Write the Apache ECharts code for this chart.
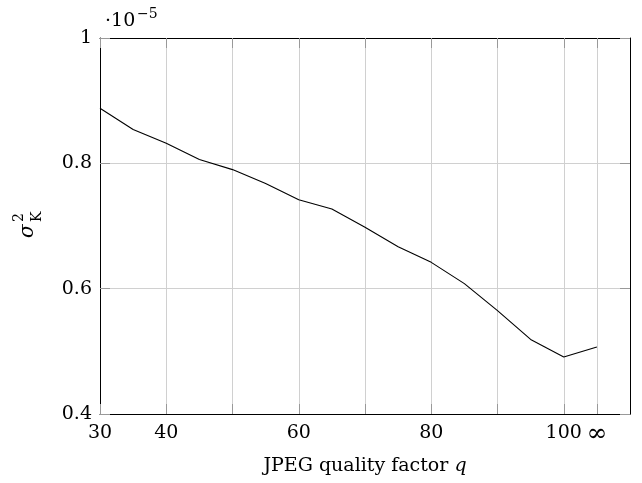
<!DOCTYPE html>
<html>
<head>
<meta charset="utf-8">
<script src="https://cdn.jsdelivr.net/npm/echarts@6/dist/echarts.min.js"></script>
<style>
  html, body { margin: 0; padding: 0; background: #fff; }
  #chart { width: 642px; height: 483px; }
</style>
</head>
<body>
<div id="chart"></div>
<script>
// JPEG quality factor q (105 stands for q = infinity)
const qualities = [30, 35, 40, 45, 50, 55, 60, 65, 70, 75, 80, 85, 90, 95, 100, 105];
// sigma_K^2, in units of 1e-5
const variances = [0.888, 0.854, 0.832, 0.806, 0.790, 0.768, 0.742, 0.727, 0.698, 0.667, 0.642, 0.608, 0.565, 0.519, 0.491, 0.507];

const xTicks = [30, 40, 50, 60, 70, 80, 90, 100, 105];
const xLabels = [30, 40, 60, 80, 100, 105];

const font = 'DejaVu Serif';

const chart = echarts.init(document.getElementById('chart'));

const tickStyle = { show: true, inside: true, length: 10, lineStyle: { color: '#999', width: 1 } };
const boxLine = { show: true, onZero: false, lineStyle: { color: '#000', width: 1 } };

chart.setOption({
  animation: false,
  grid: { left: 100, right: 12, top: 38, bottom: 69 },
  xAxis: [
    {
      type: 'value',
      min: 30,
      max: 110,
      axisLine: boxLine,
      axisTick: Object.assign({ customValues: xTicks }, tickStyle),
      axisLabel: {
        customValues: xLabels,
        margin: 10,
        color: '#000',
        fontFamily: font,
        fontSize: 19,
        formatter: v => (v === 105 ? '{inf|∞}' : String(v)),
        rich: {
          inf: { fontFamily: font, fontSize: 25, lineHeight: 20, color: '#000' }
        }
      },
      splitLine: { show: true, lineStyle: { color: '#d0d0d0', width: 1 } },
      name: '{n|JPEG quality factor }{q|q}',
      nameLocation: 'middle',
      nameGap: 43,
      nameTextStyle: {
        rich: {
          n: { fontFamily: font, fontSize: 19, color: '#000' },
          q: { fontFamily: font, fontSize: 19, fontStyle: 'italic', color: '#000' }
        }
      }
    },
    {
      type: 'value',
      position: 'top',
      min: 30,
      max: 110,
      axisLine: boxLine,
      axisTick: Object.assign({ customValues: xTicks }, tickStyle),
      axisLabel: { show: false },
      splitLine: { show: false }
    }
  ],
  yAxis: [
    {
      type: 'value',
      min: 0.4,
      max: 1,
      interval: 0.2,
      axisLine: boxLine,
      axisTick: tickStyle,
      axisLabel: {
        margin: 8,
        color: '#000',
        fontFamily: font,
        fontSize: 19,
        formatter: v => String(Math.round(v * 10) / 10)
      },
      splitLine: { show: true, lineStyle: { color: '#d0d0d0', width: 1 } }
    },
    {
      type: 'value',
      position: 'right',
      min: 0.4,
      max: 1,
      interval: 0.2,
      axisLine: boxLine,
      axisTick: tickStyle,
      axisLabel: { show: false },
      splitLine: { show: false }
    }
  ],
  series: [
    {
      type: 'line',
      data: qualities.map((q, i) => [q, variances[i]]),
      showSymbol: false,
      lineStyle: { color: '#000', width: 1.1 },
      z: 5
    }
  ],
  graphic: [
    // y axis title: sigma^2_K, rotated
    {
      type: 'group',
      x: 38,
      y: 238,
      rotation: Math.PI / 2,
      children: [
        { type: 'text', x: 0, y: 0, style: { text: 'σ', font: 'italic 20px ' + font, fill: '#000', textVerticalAlign: 'bottom' } },
        { type: 'text', x: 16, y: -12, style: { text: '2', font: '14px ' + font, fill: '#000', textVerticalAlign: 'bottom' } },
        { type: 'text', x: 16, y: 6, style: { text: 'K', font: '14px ' + font, fill: '#000', textVerticalAlign: 'bottom' } }
      ]
    },
    // exponent multiplier
    { type: 'text', x: 105, y: 31, style: { text: '·10', font: '19px ' + font, fill: '#000', textVerticalAlign: 'bottom' } },
    { type: 'text', x: 137, y: 21, style: { text: '−5', font: '14px ' + font, fill: '#000', textVerticalAlign: 'bottom' } }
  ]
});
</script>
</body>
</html>
